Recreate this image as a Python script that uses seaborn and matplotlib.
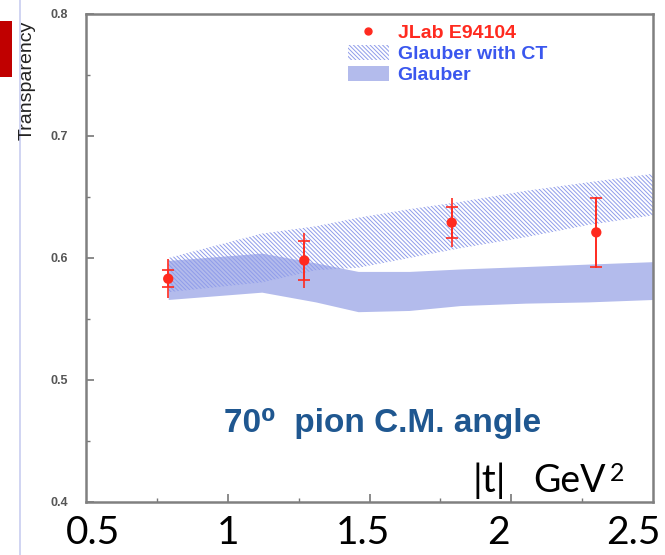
import numpy as np
import pandas as pd
import seaborn as sns
import matplotlib.pyplot as plt
from matplotlib.lines import Line2D
from matplotlib.patches import Patch, Rectangle

# JLab E94104 points (|t|, transparency, stat error, total error)
t_data = [0.79, 1.27, 1.79, 2.30]
T_data = [0.583, 0.598, 0.629, 0.621]
err_stat = [0.007, 0.016, 0.0125, 0.028]
err_tot = [0.016, 0.0225, 0.020, 0.029]

# model bands
t_band = [0.79, 1.12, 1.31, 1.46, 1.64, 1.82, 2.05, 2.27, 2.50]
glauber_hi = [0.598, 0.604, 0.596, 0.589, 0.589, 0.591, 0.593, 0.595, 0.597]
glauber_lo = [0.566, 0.572, 0.564, 0.556, 0.557, 0.561, 0.563, 0.564, 0.566]
ct_hi = [0.600, 0.620, 0.626, 0.633, 0.640, 0.646, 0.655, 0.662, 0.669]
ct_lo = [0.572, 0.580, 0.590, 0.592, 0.600, 0.608, 0.617, 0.627, 0.635]

x_labels = ["0.5", "1", "1.5", "2", "2.5"]
y_ticks = [0.4, 0.5, 0.6, 0.7, 0.8]

df = pd.DataFrame({"t": t_data, "T": T_data})

sns.set_theme(style="white")
plt.rcParams["font.family"] = ["Liberation Sans", "DejaVu Sans"]
plt.rcParams["hatch.linewidth"] = 0.7

fig = plt.figure(figsize=(6.65, 5.55), dpi=100)
ax = fig.add_axes([86 / 665, 1 - 502 / 555, 567 / 665, 488 / 555])

red = "#ff2a1f"
band_col = "#b3bbec"
hatch_col = "#8f9cea"
HATCH = "\\" * 8

ax.fill_between(t_band, glauber_lo, glauber_hi, color=band_col, lw=0, zorder=1)
ax.fill_between(t_band, ct_lo, ct_hi, facecolor="none", edgecolor=hatch_col,
                hatch=HATCH, lw=0, zorder=2)

# total errors (no caps) then stat errors (caps)
ax.errorbar(t_data, T_data, yerr=err_tot, fmt="none", ecolor=red, elinewidth=1.2, zorder=3)
ax.errorbar(t_data, T_data, yerr=err_stat, fmt="none", ecolor=red, elinewidth=1.2,
            capsize=4, capthick=1.2, zorder=3)
sns.scatterplot(data=df, x="t", y="T", color=red, s=55, edgecolor="none", zorder=4, ax=ax)

ax.set_xlim(0.5, 2.5)
ax.set_ylim(0.4, 0.8)
ax.set_xticks([1.0, 1.5, 2.0])
ax.set_xticks(np.arange(0.75, 2.5, 0.25), minor=True)
ax.set_xticklabels([])
ax.set_yticks(y_ticks)
ax.set_yticks(np.arange(0.45, 0.8, 0.1), minor=True)
ax.set_yticklabels([f"{v:.1f}" for v in y_ticks], fontsize=9, fontweight="bold", color="#555555")
ax.tick_params(axis="both", which="major", direction="in", length=6, width=1.2, color="#777777", pad=13)
ax.tick_params(axis="both", which="minor", direction="in", length=3, width=1.0, color="#777777")
ax.tick_params(axis="x", which="both", bottom=True)
ax.tick_params(axis="y", which="both", left=True)
ax.set_xlabel("")
ax.set_ylabel("")
for s in ax.spines.values():
    s.set_color("#808080")
    s.set_linewidth(1.8)

fig.text(27 / 665, 1 - 80 / 555, "Transparency", rotation=90, ha="center", va="center",
         fontsize=14, color="#222222")

# legend
handles = [
    Line2D([], [], marker="o", color=red, ls="none", ms=5),
    Patch(facecolor="none", edgecolor=hatch_col, hatch=HATCH, lw=0),
    Patch(facecolor=band_col, lw=0),
]
leg = ax.legend(handles, ["JLab E94104", "Glauber with CT", "Glauber"],
                loc="upper left", bbox_to_anchor=(0.445, 0.999), frameon=False,
                prop={"size": 14, "weight": "bold"}, handlelength=2.1,
                handleheight=0.8, handletextpad=0.45, labelspacing=0.14, borderpad=0)
for txt, c in zip(leg.get_texts(), [red, "#3a57ee", "#3a57ee"]):
    txt.set_color(c)

fig.text(383 / 665, 1 - 432 / 555, "70\u2070  pion C.M. angle", fontsize=24,
         fontweight="bold", color="#1f5790", ha="center", va="baseline")

# overlay axis annotation in slide font
slide_font = ["Lato", "DejaVu Sans"]
fig.text(473 / 665, 1 - 492 / 555, "|t|", fontsize=28,
         family=slide_font, color="black", ha="left", va="baseline")
fig.text(533 / 665, 1 - 492 / 555, "GeV", fontsize=27,
         family=slide_font, color="black", ha="left", va="baseline")
fig.text(610 / 665, 1 - 481 / 555, "2", fontsize=18,
         family=slide_font, color="black", ha="left", va="baseline")
for i, lab in enumerate(x_labels):
    fig.text((93 + i * 135) / 665, 1 - 533 / 555, lab, fontsize=28,
             family=slide_font, ha="center", va="center", color="black")

# slide decorations
fig.patches.append(Rectangle((0, 1 - 77 / 555), 12 / 665, 56 / 555, transform=fig.transFigure,
                             color="#c00000", lw=0))
fig.add_artist(Line2D([20 / 665, 20 / 665], [0, 1], transform=fig.transFigure,
                      color="#c8cdf0", lw=1.2))

fig.savefig("out.png", dpi=100)
